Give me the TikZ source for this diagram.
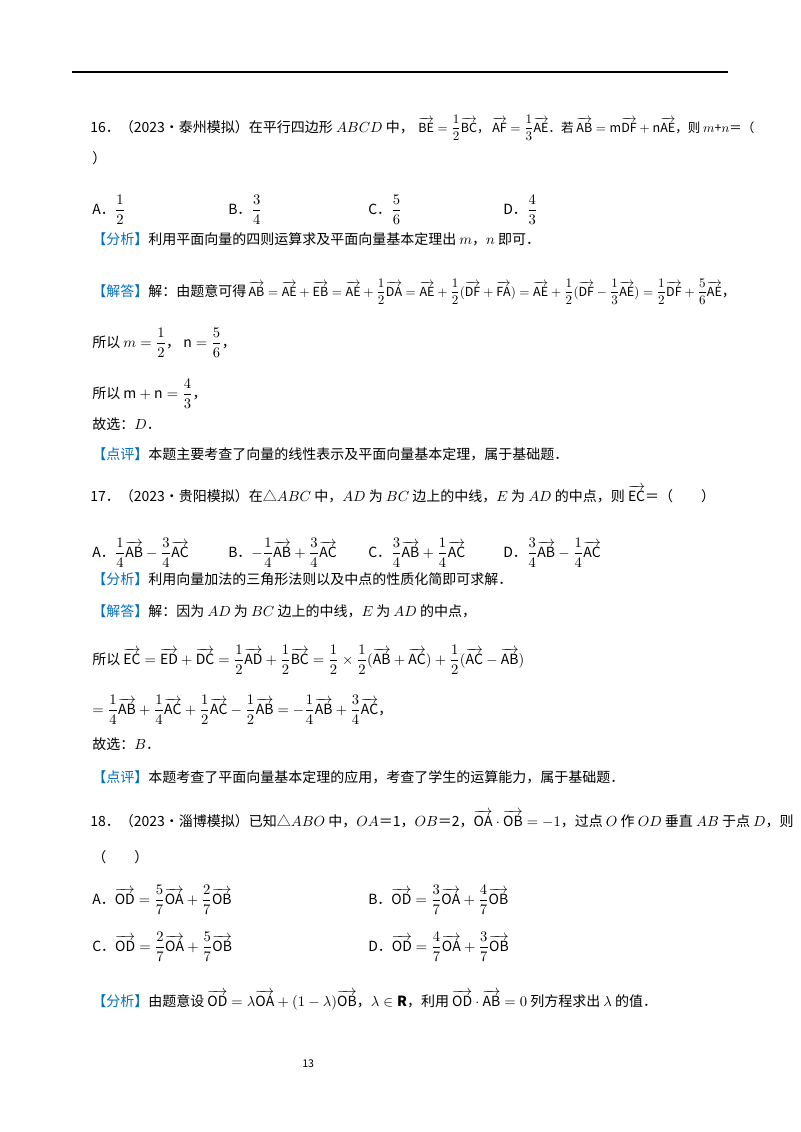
\documentclass[tikz,border=0pt]{standalone}
\usepackage{fontspec}
\setmainfont{Noto Sans CJK SC}
\usepackage{amsmath}
\newcommand{\V}[1]{\overrightarrow{\mathrm{#1}}}
\newcommand{\F}[2]{\dfrac{#1}{#2}}
\definecolor{tagblue}{RGB}{0,112,192}
\newcommand{\tg}[1]{\textcolor{tagblue}{【#1】}}
\tikzset{tx/.style={anchor=base west,inner sep=0pt,font=\fontsize{10.5}{12}\selectfont}}
\begin{document}
\begin{tikzpicture}[x=0.75pt,y=-0.75pt]
\useasboundingbox (0,0) rectangle (800,1132);
\fill[white] (0,0) rectangle (800,1132);
\coordinate (rl) at (72,72); \coordinate (rr) at (728,72);
\draw[line width=1.2pt] (rl) -- (rr);
\node[tx] (a1) at (90,132) {16．（2023•泰州模拟）在平行四边形 $ABCD$ 中，};
\node[tx] (a2) at ([xshift=3pt]a1.base east) {\resizebox{252pt}{!}{$\V{BE}=\F12\V{BC}$，\ $\V{AF}=\F13\V{AE}$．若 $\V{AB}=\mathrm m\V{DF}+\mathrm n\V{AE}$，则 $m$+$n$＝（}};
\node[tx] (a3) at (92,163) {）};
\node[tx] (o1) at (92,214) {A．$\F12$};
\node[tx] (o2) at (228,214) {B．$\F34$};
\node[tx] (o3) at (368,214) {C．$\F56$};
\node[tx] (o4) at (503,214) {D．$\F43$};
\node[tx] (b1) at (92,244) {\tg{分析}利用平面向量的四则运算求及平面向量基本定理出 $m$，$n$ 即可．};
\node[tx] (b2) at (92,296) {\tg{解答}解：由题意可得\,\resizebox{355pt}{!}{$\V{AB}=\V{AE}+\V{EB}=\V{AE}+\F12\V{DA}=\V{AE}+\F12(\V{DF}+\V{FA})=\V{AE}+\F12(\V{DF}-\F13\V{AE})=\F12\V{DF}+\F56\V{AE}$}，};
\node[tx] (b3) at (92,347) {所以 $m=\F12$，\ $\mathrm n=\F56$，};
\node[tx] (b4) at (92,398) {所以 $\mathrm{m+n}=\F43$，};
\node[tx] (b5) at (92,429) {故选：$D$．};
\node[tx] (b6) at (92,459) {\tg{点评}本题主要考查了向量的线性表示及平面向量基本定理，属于基础题．};
\node[tx] (c1) at (90,501) {17．（2023•贵阳模拟）在△$ABC$ 中，$AD$ 为 $BC$ 边上的中线，$E$ 为 $AD$ 的中点，则 $\V{EC}$＝（\qquad ）};
\node[tx] (p1) at (92,557) {A．$\F14\V{AB}-\F34\V{AC}$};
\node[tx] (p2) at (228,557) {B．$-\F14\V{AB}+\F34\V{AC}$};
\node[tx] (p3) at (368,557) {C．$\F34\V{AB}+\F14\V{AC}$};
\node[tx] (p4) at (503,557) {D．$\F34\V{AB}-\F14\V{AC}$};
\node[tx] (d1) at (92,584) {\tg{分析}利用向量加法的三角形法则以及中点的性质化简即可求解．};
\node[tx] (d2) at (92,616) {\tg{解答}解：因为 $AD$ 为 $BC$ 边上的中线，$E$ 为 $AD$ 的中点，};
\node[tx] (d3) at (92,664) {所以 $\V{EC}=\V{ED}+\V{DC}=\F12\V{AD}+\F12\V{BC}=\F12\times\F12(\V{AB}+\V{AC})+\F12(\V{AC}-\V{AB})$};
\node[tx] (d4) at (92,714) {$=\F14\V{AB}+\F14\V{AC}+\F12\V{AC}-\F12\V{AB}=-\F14\V{AB}+\F34\V{AC}$，};
\node[tx] (d5) at (92,749) {故选：$B$．};
\node[tx] (d6) at (92,782) {\tg{点评}本题考查了平面向量基本定理的应用，考查了学生的运算能力，属于基础题．};
\node[tx] (e1) at (90,826) {18．（2023•淄博模拟）已知△$ABO$ 中，$OA$＝1，$OB$＝2，$\V{OA}\cdot\V{OB}=-1$，过点 $O$ 作 $OD$ 垂直 $AB$ 于点 $D$，则};
\node[tx] (e2) at (92,862) {（\qquad ）};
\node[tx] (q1) at (92,904) {A．$\V{OD}=\F57\V{OA}+\F27\V{OB}$};
\node[tx] (q2) at (368,904) {B．$\V{OD}=\F37\V{OA}+\F47\V{OB}$};
\node[tx] (q3) at (92,951) {C．$\V{OD}=\F27\V{OA}+\F57\V{OB}$};
\node[tx] (q4) at (368,951) {D．$\V{OD}=\F47\V{OA}+\F37\V{OB}$};
\node[tx] (f1) at (92,1006) {\tg{分析}由题意设 $\V{OD}=\lambda\V{OA}+(1-\lambda)\V{OB}$，$\lambda\in\mathbf R$，利用 $\V{OD}\cdot\V{AB}=0$ 列方程求出 $\lambda$ 的值．};
\node[tx,font=\fontsize{8}{9}\selectfont] (pg) at (302,1067) {13};
\end{tikzpicture}
\end{document}
